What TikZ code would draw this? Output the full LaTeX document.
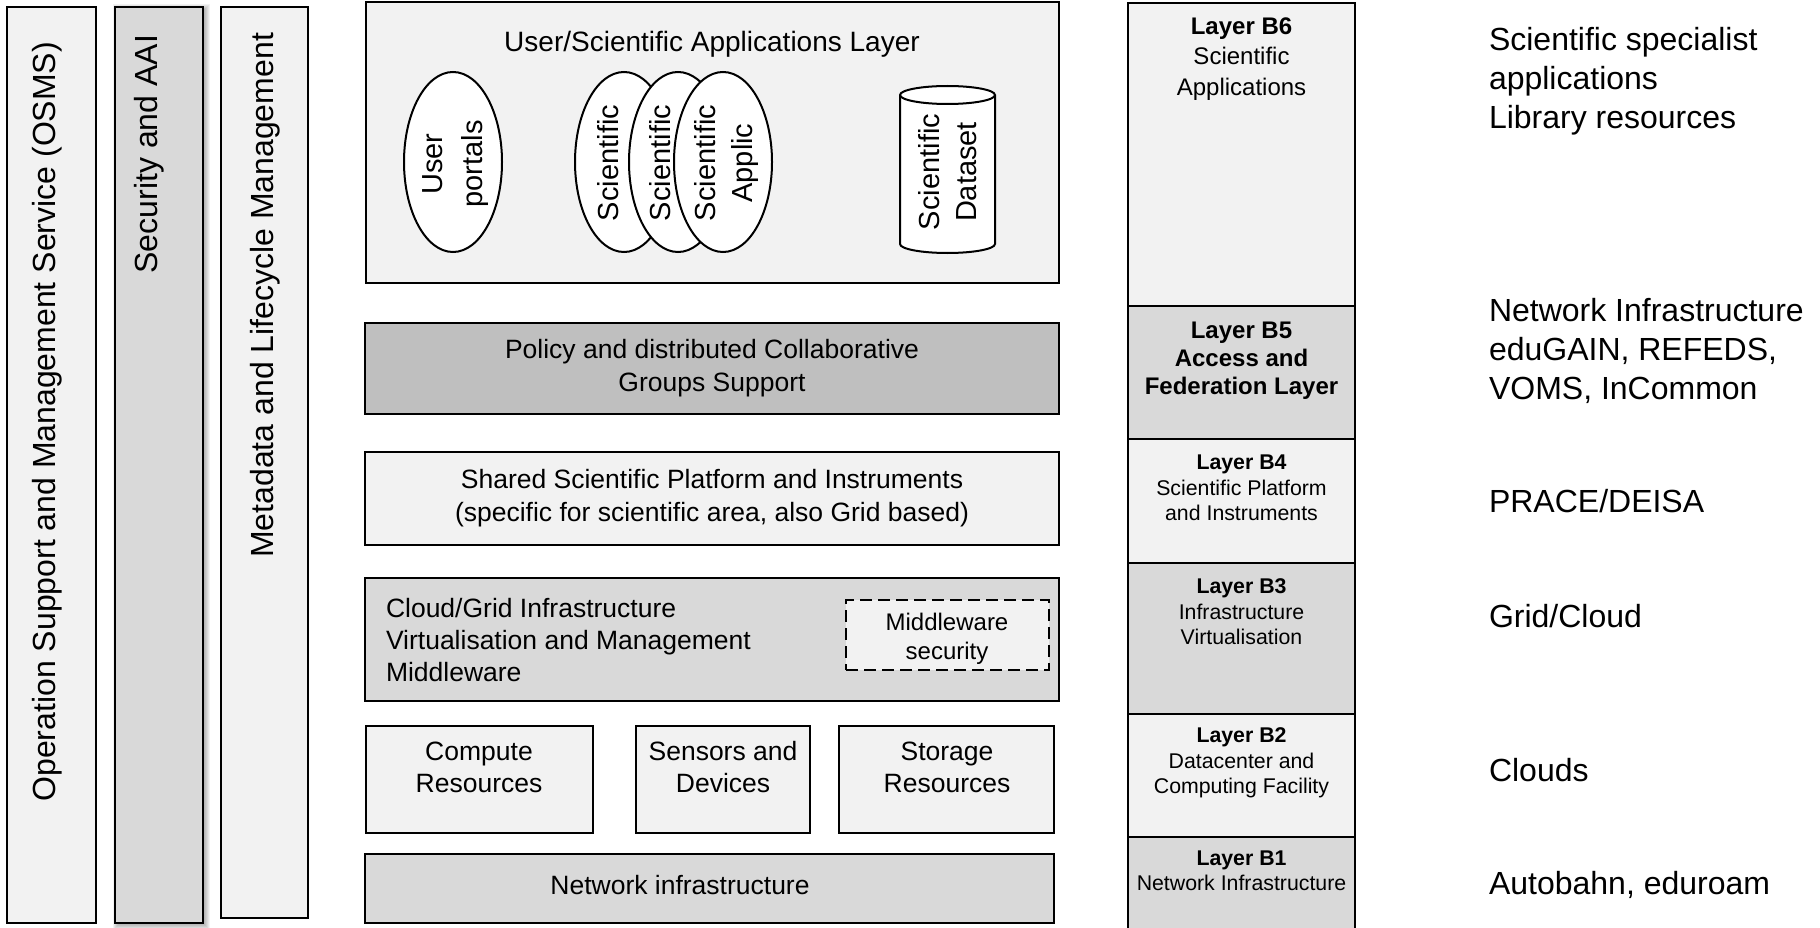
\documentclass[tikz,border=0pt]{standalone}
\usepackage{fontspec}
\setmainfont{Liberation Sans}
\usetikzlibrary{shapes.geometric}
\definecolor{lightg}{HTML}{F2F2F2}
\definecolor{midg}{HTML}{D9D9D9}
\definecolor{darkg}{HTML}{BFBFBF}
\newcommand\fsz[2]{\fontsize{#1}{#2}\selectfont}
\begin{document}
\begin{tikzpicture}[x=1pt,y=-1pt,
  box/.style={draw=black, line width=2.6pt, inner sep=0pt, outer sep=0pt, anchor=north west},
  txt/.style={inner sep=0pt, outer sep=0pt, align=center, text=black},
  vtxt/.style={txt, rotate=90, anchor=base east, font=\fsz{32}{38}},
  ell/.style={ellipse, draw=black, line width=2pt, fill=white, minimum width=98pt, minimum height=180pt, inner sep=0pt},
  etxt/.style={txt, rotate=90, font=\fsz{29}{37}},
  main/.style={txt, font=\fsz{26.5}{32}},
  lay/.style={txt, font=\fsz{21.3}{25.5}},
  layb/.style={txt, font=\fsz{24}{30.5}},
  side/.style={txt, anchor=west, align=left, font=\fsz{32}{39}},
  dashbox/.style={box, dash pattern=on 12pt off 6pt}
]
\fill[white] (0,0) rectangle (1820,928);
\useasboundingbox (0,0) rectangle (1820,928);

% ---- left vertical columns
\node[box, fill=lightg, minimum width=89pt, minimum height=916pt] (osms) at (7,7) {};
\node[vtxt] (osmst) at (55,42) {Operation Support and Management Service (OSMS)};

\foreach \s in {0,1,...,6}{
  \fill[black, opacity=0.05] (119-\s,10-\s) rectangle (204+\s,924+\s);
}
\node[box, fill=midg, minimum width=88pt, minimum height=916pt] (sec) at (115,7) {};
\node[vtxt] (sect) at (157,35) {Security and AAI};

\node[box, fill=lightg, minimum width=87pt, minimum height=911pt] (meta) at (221,7) {};
\node[vtxt] (metat) at (273,33) {Metadata and Lifecycle Management};

% ---- application layer
\node[box, fill=lightg, minimum width=693pt, minimum height=281pt] (app) at (366,2) {};
\node[txt, font=\fsz{28}{32}] (appt) at (712,44) {User/Scientific Applications Layer};

\node[ell] (e1) at (453,162) {};
\node[etxt, font=\fsz{29}{40}] (e1t) at (456,164) {User\\portals};

\node[ell] (e2) at (624,162) {};
\node[etxt] (e2t) at (608,163) {Scientific};
\node[ell] (e3) at (678,162) {};
\node[etxt] (e3t) at (660,163) {Scientific};
\node[ell] (e4) at (723,162) {};
\node[etxt] (e4t) at (726,163) {Scientific\\Applic};

\node[inner sep=0pt, outer sep=0pt, minimum width=95pt, minimum height=167pt] (ds) at (947.5,169.5) {};
\draw[line width=2pt, fill=white] (900,95) -- (900,244)
  arc[start angle=180, end angle=360, x radius=47.5pt, y radius=9pt] -- (995,95)
  arc[start angle=0, end angle=180, x radius=47.5pt, y radius=9pt] -- cycle;
\draw[line width=2pt] (900,95) arc[start angle=180, end angle=360, x radius=47.5pt, y radius=9pt];
\node[etxt] (dst) at (948,172) {Scientific\\Dataset};

% ---- middle layers
\node[box, fill=darkg, minimum width=694pt, minimum height=91pt] (policy) at (365,323) {};
\node[main, font=\fsz{26.5}{33}] (policyt) at (712,368) {Policy and distributed Collaborative\\Groups Support};

\node[box, fill=lightg, minimum width=694pt, minimum height=93pt] (shared) at (365,452) {};
\node[main, font=\fsz{26.5}{33}] (sharedt) at (712,498) {Shared Scientific Platform and Instruments\\(specific for scientific area, also Grid based)};

\node[box, fill=midg, minimum width=694pt, minimum height=123pt] (cloud) at (365,578) {};
\node[main, anchor=west, align=left] (cloudt) at (386,640) {Cloud/Grid Infrastructure\\Virtualisation and Management\\Middleware};

\node[dashbox, fill=lightg, minimum width=203pt, minimum height=70pt] (mws) at (846,600) {};
\node[txt, font=\fsz{24}{29}] (mwst) at (947,639) {Middleware\\security};

\node[box, fill=lightg, minimum width=227pt, minimum height=107pt] (comp) at (366,726) {};
\node[main] (compt) at (479,767.5) {Compute\\Resources};
\node[box, fill=lightg, minimum width=174pt, minimum height=107pt] (sens) at (636,726) {};
\node[main] (senst) at (723,767.5) {Sensors and\\Devices};
\node[box, fill=lightg, minimum width=215pt, minimum height=107pt] (stor) at (839,726) {};
\node[main] (stort) at (947,767.5) {Storage\\Resources};

\node[box, fill=midg, minimum width=689pt, minimum height=69pt] (net) at (365,854) {};
\node[main] (nett) at (680,885) {Network infrastructure};

% ---- right layer column
\node[box, fill=lightg, minimum width=227pt, minimum height=303pt] (b6) at (1128,3) {};
\node[layb] (b6t) at (1241.5,59) {\textbf{Layer B6}\\Scientific\\Applications};
\node[box, fill=midg, minimum width=227pt, minimum height=133pt] (b5) at (1128,306) {};
\node[layb, font=\fsz{24}{28}\bfseries] (b5t) at (1241.5,361) {Layer B5\\Access and\\Federation Layer};
\node[box, fill=lightg, minimum width=227pt, minimum height=124pt] (b4) at (1128,439) {};
\node[lay] (b4t) at (1241.5,488) {\textbf{Layer B4}\\Scientific Platform\\and Instruments};
\node[box, fill=midg, minimum width=227pt, minimum height=151pt] (b3) at (1128,563) {};
\node[lay] (b3t) at (1241.5,612) {\textbf{Layer B3}\\Infrastructure\\Virtualisation};
\node[box, fill=lightg, minimum width=227pt, minimum height=123pt] (b2) at (1128,714) {};
\node[lay] (b2t) at (1241.5,763) {\textbf{Layer B2}\\Datacenter and\\Computing Facility};
\node[box, fill=midg, minimum width=227pt, minimum height=100pt] (b1) at (1128,837) {};
\node[lay] (b1t) at (1241.5,871) {\textbf{Layer B1}\\Network Infrastructure};

% ---- right side notes
\node[side] (r1) at (1489,81) {Scientific specialist\\applications\\Library resources};
\node[side] (r2) at (1489,351) {Network Infrastructure\\eduGAIN, REFEDS,\\VOMS, InCommon};
\node[side] (r3) at (1489,501) {PRACE/DEISA};
\node[side] (r4) at (1489,616) {Grid/Cloud};
\node[side] (r5) at (1489,770) {Clouds};
\node[side] (r6) at (1489,885) {Autobahn, eduroam};
\end{tikzpicture}
\end{document}
